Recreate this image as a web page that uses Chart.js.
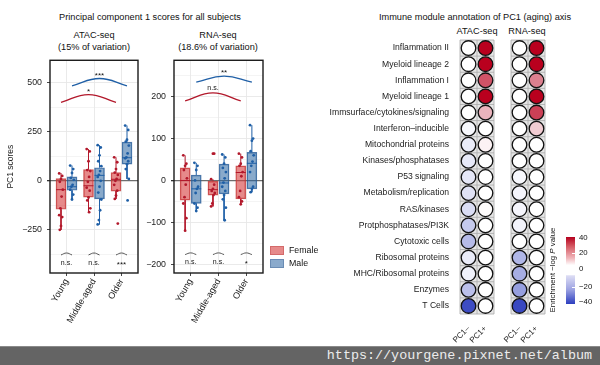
<!DOCTYPE html>
<html><head><meta charset="utf-8">
<script src="https://cdn.jsdelivr.net/npm/chart.js@4.4.0/dist/chart.umd.min.js"></script>
<style>
html,body{margin:0;padding:0;background:#fff;}
#wrap{position:relative;width:600px;height:365px;overflow:hidden;font-family:"Liberation Sans",Arial,sans-serif;color:#111;}
canvas{position:absolute;}
.t{position:absolute;white-space:nowrap;font-size:9.2px;line-height:1;transform:translate(-50%,-50%);}
.lg{position:absolute;width:14px;height:8.5px;}
.lt{position:absolute;font-size:8.8px;line-height:1;transform:translateY(-50%);white-space:nowrap;}
#band{position:absolute;left:0;top:346px;width:600px;height:19px;background:#646464;border-top:1px solid #8a8a8a;box-sizing:border-box;}
#band span{position:absolute;right:8px;top:2px;font-family:"Liberation Mono","DejaVu Sans Mono",monospace;font-size:13.4px;color:#ececec;line-height:1;}
#cbar{position:absolute;left:566px;top:237px;width:9px;height:67px;
background:linear-gradient(to bottom,#b5001e 0%,#d55a64 14%,#f1b8bd 32%,#fff 42%,#fff 56%,#dcdcf4 58%,#9ea4e2 78%,#2c3ebf 100%);}
.ct{position:absolute;font-size:7.8px;line-height:1;transform:translateY(-50%);}
.wt{position:absolute;left:572px;width:3px;height:1px;background:#fff;}
</style></head>
<body><div id="wrap">
<div class="t" style="left:150px;top:18px;">Principal component 1 scores for all subjects</div>
<div class="t" style="left:94px;top:36px;">ATAC-seq</div>
<div class="t" style="left:94px;top:48px;">(15% of variation)</div>
<div class="t" style="left:218px;top:36px;">RNA-seq</div>
<div class="t" style="left:218px;top:48px;">(18.6% of variation)</div>
<div class="t" style="left:475px;top:18px;">Immune module annotation of PC1 (aging) axis</div>
<div class="t" style="left:477px;top:32px;">ATAC-seq</div>
<div class="t" style="left:527px;top:32px;">RNA-seq</div>
<canvas id="cA" width="145" height="295" style="left:0;top:50px;width:145px;height:295px"></canvas>
<canvas id="cB" width="130" height="295" style="left:140px;top:50px;width:130px;height:295px"></canvas>
<canvas id="cC" width="300" height="345" style="left:300px;top:0;width:300px;height:345px"></canvas>
<div class="lg" style="left:270px;top:246px;background:#e68a8a;border:0.5px solid #d46a6a;box-sizing:border-box;"></div>
<div class="lt" style="left:289px;top:250px;">Female</div>
<div class="lg" style="left:270px;top:259px;background:#8aaacc;border:0.5px solid #6a8cb4;box-sizing:border-box;"></div>
<div class="lt" style="left:289px;top:263px;">Male</div>
<div id="cbar"></div>
<div class="wt" style="top:253px"></div><div class="wt" style="top:287px"></div>
<div class="ct" style="left:579px;top:238px;">40</div>
<div class="ct" style="left:579px;top:253px;">20</div>
<div class="ct" style="left:579px;top:269px;">0</div>
<div class="ct" style="left:579px;top:287px;">&minus;20</div>
<div class="ct" style="left:579px;top:302px;">&minus;40</div>
<div class="t" style="left:553px;top:270px;font-size:7.8px;transform:translate(-50%,-50%) rotate(-90deg);">Enrichment &minus;log <i>P</i> value</div>
<div id="band"><span>https://yourgene.pixnet.net/album</span></div>
</div>
<script>
// ---------------- DATA ----------------
const categories = ['Young', 'Middle-aged', 'Older'];
// box stats per category: [whiskerLow, q1, median, q3, whiskerHigh]
const atacFemaleBox = [[-250, -145, -45, 12, 40], [-160, -83, -25, 57, 162], [-92, -52, 8, 42, 120]];
const atacMaleBox   = [[-95, -48, -30, 20, 78], [-222, -92, 28, 67, 182], [10, 85, 118, 198, 282]];
const atacFemalePts = [
  [38, 25, 10, -5, -45, -80, -140, -175, -185, -230, -250],
  [162, 150, 100, 55, 50, 20, -5, -35, -50, -85, -100, -140, -160],
  [120, 95, 60, 42, 30, 10, 0, -20, -50, -75, -92, -218]];
const atacMalePts = [
  [78, 60, 40, 15, 5, -20, -30, -45, -70, -95],
  [182, 170, 130, 100, 75, 50, 30, 20, 0, -30, -60, -95, -150, -200, -222],
  [282, 260, 210, 200, 180, 140, 120, 115, 100, 85, 60, 10, -100]];
const rnaFemaleBox = [[-120, -47, 0, 30, 60], [-62, -35, -22, -2, 3], [-57, -44, 19, 35, 64]];
const rnaMaleBox   = [[-73, -55, -20, 13, 42], [-95, -32, -6, 39, 62], [-28, -20, 41, 67, 132]];
const rnaFemalePts = [
  [60, 40, 35, 25, 5, -10, -40, -55, -90, -120],
  [3, -10, -20, -25, -30, -35, -55, -62, 64, 64],
  [64, 55, 40, 35, 20, 10, -25, -40, -50, -57]];
const rnaMalePts = [
  [42, 35, 25, 0, -15, -20, -30, -55, -65, -73],
  [62, 55, 40, 30, 20, 5, -5, -15, -25, -35, -45, -65, -95],
  [132, 100, 95, 70, 60, 45, 35, 20, -15, -20, -28]];
const atacYTicks = [-375, -250, -125, 0, 125, 250, 375, 500];
const atacYMajor = [-250, 0, 250, 500];
const rnaYTicks = [-200, -150, -100, -50, 0, 50, 100, 150, 200, 250];
const rnaYMajor = [-200, -100, 0, 100, 200];
// significance arcs: [fromCategory, toCategory, yEnd, yPeak, label, labelY]
const atacFemaleArc = [0, 2, 400, 440, '*', 462];
const atacMaleArc   = [0, 2, 485, 522, '***', 548];
const rnaFemaleArc  = [0, 2, 190, 209, 'n.s.', 221];
const rnaMaleArc    = [0, 2, 235, 249, '**', 262];
const atacSexLabels = ['n.s.', 'n.s.', '***'];
const rnaSexLabels  = ['n.s.', 'n.s.', '*'];
const atacSexArc = [-378, -368, -418]; // yEnd, yPeak, labelY
const rnaSexArc  = [-177, -173, -195];

const modules = ['Inflammation II', 'Myeloid lineage 2', 'Inflammation I', 'Myeloid lineage 1',
  'Immsurface/cytokines/signaling', 'Interferon\u2013inducible', 'Mitochondrial proteins',
  'Kinases/phosphatases', 'P53 signaling', 'Metabolism/replication', 'RAS/kinases',
  'Protphosphatases/PI3K', 'Cytotoxic cells', 'Ribosomal proteins', 'MHC/Ribosomal proteins',
  'Enzymes', 'T Cells'];
const columnLabels = ['PC1\u2013', 'PC1+', 'PC1\u2013', 'PC1+'];
const atacNeg = [0, 0, 0, 0, 0, -1.5, -4, -4.5, -5, -6, -7, -11, -14, -4, -3, -13, -37];
const atacPos = [40, 40, 27, 40, 12, 0, 2, 0, 0, 0, 0.5, 0, 0, 0, 0, 0, 0];
const rnaNeg  = [0, 0, 0, 0, 0, 0, 0, 0, -1.5, -2, -2, -2.5, 0, -15, -17, -20, -38];
const rnaPos  = [40, 40, 20, 40, 30, 8, 0, 0, 0, 0, 0, 0, 0, 0, 0, 0, 0];

// ---------------- STYLE ----------------
Chart.defaults.font.family = '"Liberation Sans", Arial, sans-serif';
Chart.defaults.color = '#222';
const RED = '#b2182b', BLUE = '#1f5fa6';
const RED_FILL = 'rgba(214,60,60,0.6)', BLUE_FILL = 'rgba(40,100,160,0.55)';
const RED_EDGE = 'rgba(190,50,50,0.8)', BLUE_EDGE = 'rgba(40,90,150,0.8)';
const DODGE = 0.2, HALFBOX = 0.18;
const fmt = v => v < 0 ? '\u2212' + Math.abs(v) : String(v);

const framePlugin = {
  id: 'frame',
  afterDatasetsDraw(chart) {
    const a = chart.chartArea, c = chart.ctx;
    c.save(); c.strokeStyle = '#1a1a1a'; c.lineWidth = 1.4;
    c.strokeRect(a.left, a.top, a.right - a.left, a.bottom - a.top); c.restore();
  }
};
const textPlugin = {
  id: 'sigtext',
  afterDatasetsDraw(chart, args, opts) {
    const c = chart.ctx, xs = chart.scales.x, ys = chart.scales.y;
    c.save(); c.textAlign = 'center'; c.textBaseline = 'middle';
    (opts.items || []).forEach(it => {
      c.font = (it.t.indexOf('*') >= 0 ? '8px' : '7px') + ' "Liberation Sans", Arial, sans-serif';
      c.fillStyle = '#111';
      const dy = it.t.indexOf('*') >= 0 ? 2 : 0;
      c.fillText(it.t, xs.getPixelForValue(it.x), ys.getPixelForValue(it.y) + dy);
    });
    c.restore();
  }
};

function boxSets(boxes, pts, off, fill, edge, line) {
  const bars = boxes.map((b, i) => ({ x: i + off, y: [b[1], b[3]] }));
  const wh = [];
  boxes.forEach((b, i) => {
    const x = i + off;
    wh.push({ x, y: b[3] }, { x, y: b[4] }, { x, y: null },
            { x, y: b[1] }, { x, y: b[0] }, { x, y: null },
            { x: x - HALFBOX, y: b[2] }, { x: x + HALFBOX, y: b[2] }, { x, y: null });
  });
  const p = [];
  pts.forEach((arr, i) => arr.forEach((v, k) => p.push({ x: i + off + (((k * 5) % 7) - 3) * 0.022, y: v })));
  return [
    { type: 'bar', data: bars, backgroundColor: fill, borderColor: edge, borderWidth: 0.8,
      barThickness: 10, grouped: false, borderSkipped: false, order: 3 },
    { type: 'line', data: wh, borderColor: line, borderWidth: 1, pointRadius: 0, spanGaps: false, order: 2 },
    { type: 'scatter', data: p, backgroundColor: line, borderColor: line, pointRadius: 1.4, borderWidth: 0, order: 1 }
  ];
}
function arcSet(arc, off, color) {
  return { type: 'line', data: [{ x: arc[0] + off, y: arc[2] }, { x: (arc[0] + arc[1]) / 2 + off, y: arc[3] }, { x: arc[1] + off, y: arc[2] }],
    borderColor: color, borderWidth: 1.3, pointRadius: 0, tension: 0.45, order: 0 };
}
function sexArcs(sa) {
  return categories.map((c, i) => ({ type: 'line', data: [{ x: i - DODGE, y: sa[0] }, { x: i, y: sa[1] }, { x: i + DODGE, y: sa[0] }],
    borderColor: '#555', borderWidth: 1, pointRadius: 0, tension: 0.45, order: 0 }));
}

function boxChart(id, o) {
  const ds = [].concat(
    boxSets(o.fBox, o.fPts, -DODGE, RED_FILL, RED_EDGE, RED),
    boxSets(o.mBox, o.mPts, DODGE, BLUE_FILL, BLUE_EDGE, BLUE),
    [arcSet(o.fArc, -DODGE, RED), arcSet(o.mArc, DODGE, BLUE)],
    sexArcs(o.sexArc));
  const items = [
    { x: (o.fArc[0] + o.fArc[1]) / 2 - DODGE, y: o.fArc[5], t: o.fArc[4] },
    { x: (o.mArc[0] + o.mArc[1]) / 2 + DODGE, y: o.mArc[5], t: o.mArc[4] }
  ].concat(o.sexLabels.map((t, i) => ({ x: i, y: o.sexArc[2], t })));
  return new Chart(document.getElementById(id), {
    type: 'scatter',
    data: { datasets: ds },
    plugins: [framePlugin, textPlugin],
    options: {
      responsive: false, animation: false, devicePixelRatio: 1,
      layout: { padding: { top: 7, right: 7, left: 0, bottom: 0 } },
      plugins: { legend: { display: false }, tooltip: { enabled: false }, sigtext: { items } },
      scales: {
        x: {
          type: 'linear', min: -0.6, max: 2.6, offset: false,
          afterBuildTicks: s => { s.ticks = categories.map((c, i) => ({ value: i })); },
          afterFit: s => { s.height = 72; },
          ticks: { callback: v => categories[v], minRotation: 60, maxRotation: 60, autoSkip: false,
                   font: { size: 9 }, color: '#222', padding: 1 },
          grid: { color: '#e8e8e8', lineWidth: 0.9, tickColor: '#333', tickLength: 3, offset: false },
          border: { display: false }
        },
        y: {
          type: 'linear', min: o.yMin, max: o.yMax,
          afterBuildTicks: s => { s.ticks = o.yTicks.map(v => ({ value: v })); },
          afterFit: s => { s.width = o.yWidth; },
          ticks: { callback: v => o.yMajor.includes(v) ? fmt(v) : '', font: { size: 8.8 }, color: '#222', padding: 5, autoSkip: false },
          grid: {
            color: c => (c.tick && c.tick.value === 0) ? '#6e6e6e' : '#e8e8e8',
            lineWidth: c => (c.tick && c.tick.value === 0) ? 1.3 : (o.yMajor.includes(c.tick && c.tick.value) ? 0.9 : 0.5),
            tickColor: c => o.yMajor.includes(c.tick && c.tick.value) ? '#333' : 'rgba(0,0,0,0)',
            tickLength: 3
          },
          border: { display: false },
          title: o.yTitle ? { display: true, text: o.yTitle, font: { size: 8.5 }, color: '#222', padding: { top: 6, bottom: 0 } } : { display: false }
        }
      }
    }
  });
}

boxChart('cA', { fBox: atacFemaleBox, mBox: atacMaleBox, fPts: atacFemalePts, mPts: atacMalePts,
  fArc: atacFemaleArc, mArc: atacMaleArc, sexLabels: atacSexLabels, sexArc: atacSexArc,
  yMin: -470, yMax: 615, yTicks: atacYTicks, yMajor: atacYMajor, yWidth: 50, yTitle: 'PC1 scores' });
boxChart('cB', { fBox: rnaFemaleBox, mBox: rnaMaleBox, fPts: rnaFemalePts, mPts: rnaMalePts,
  fArc: rnaFemaleArc, mArc: rnaMaleArc, sexLabels: rnaSexLabels, sexArc: rnaSexArc,
  yMin: -221, yMax: 287, yTicks: rnaYTicks, yMajor: rnaYMajor, yWidth: 34, yTitle: null });

// ------------- dot matrix -------------
function enrichColor(v) {
  const t = Math.min(Math.abs(v) / 40, 1);
  const end = v >= 0 ? [185, 0, 30] : [45, 62, 190];
  const m = end.map(e => Math.round(255 + (e - 255) * t));
  return 'rgb(' + m.join(',') + ')';
}
const columnPos = [0, 1, 3, 4];
const columnValues = [atacNeg, atacPos, rnaNeg, rnaPos];
const tilePlugin = {
  id: 'tiles',
  beforeDatasetsDraw(chart) {
    const c = chart.ctx, xs = chart.scales.x, ys = chart.scales.y;
    const top = ys.getPixelForValue(-0.5), bot = ys.getPixelForValue(modules.length - 0.5);
    c.save();
    [[-0.5, 1.5], [2.5, 4.5]].forEach(([a, b]) => {
      const l = xs.getPixelForValue(a), r = xs.getPixelForValue(b);
      c.fillStyle = '#e6e6e6'; c.fillRect(l, top, r - l, bot - top);
      c.strokeStyle = '#a8a8a8'; c.lineWidth = 0.8;
      for (let k = a; k <= b + 1e-9; k += 1) { const x = xs.getPixelForValue(k); c.beginPath(); c.moveTo(x, top); c.lineTo(x, bot); c.stroke(); }
      for (let k = -0.5; k <= modules.length - 0.5 + 1e-9; k += 1) { const y = ys.getPixelForValue(k); c.beginPath(); c.moveTo(l, y); c.lineTo(r, y); c.stroke(); }
    });
    c.restore();
  }
};
new Chart(document.getElementById('cC'), {
  type: 'scatter',
  data: { datasets: columnValues.map((vals, j) => ({
    data: vals.map((v, i) => ({ x: columnPos[j], y: i })),
    pointRadius: 7.3, borderWidth: 1.3, borderColor: '#111',
    pointBackgroundColor: vals.map(enrichColor)
  })) },
  plugins: [tilePlugin],
  options: {
    responsive: false, animation: false, devicePixelRatio: 1,
    layout: { padding: { top: 40, right: 55, left: 0, bottom: 0 } },
    plugins: { legend: { display: false }, tooltip: { enabled: false } },
    scales: {
      x: {
        type: 'linear', min: -0.5, max: 4.5,
        afterBuildTicks: s => { s.ticks = columnPos.map(v => ({ value: v })); },
        afterFit: s => { s.height = 31; },
        ticks: { callback: (v) => columnLabels[columnPos.indexOf(v)], minRotation: 45, maxRotation: 45, autoSkip: false,
                 font: { size: 8 }, color: '#222', padding: 2 },
        grid: { display: false }, border: { display: false }
      },
      y: {
        type: 'linear', min: -0.5, max: modules.length - 0.5, reverse: true,
        afterBuildTicks: s => { s.ticks = modules.map((m, i) => ({ value: i })); },
        afterFit: s => { s.width = 160; },
        ticks: { callback: v => modules[v], autoSkip: false, font: { size: 8.6 }, color: '#222', padding: 3 },
        grid: { display: false }, border: { display: false }
      }
    }
  }
});
</script>
</body></html>
